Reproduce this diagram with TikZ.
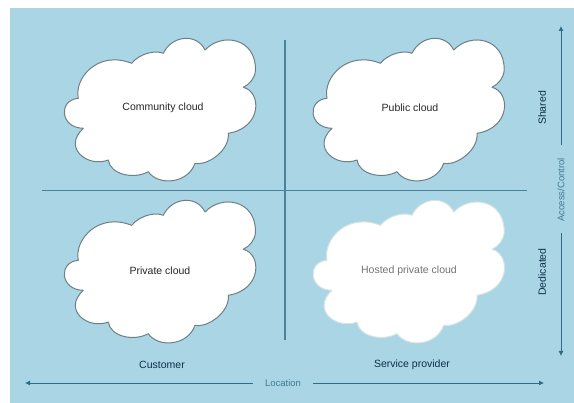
\documentclass[tikz,border=0pt]{standalone}
\usepackage{fontspec}
\setmainfont{Liberation Sans}
\usetikzlibrary{arrows.meta}
\definecolor{panel}{HTML}{A9D5E5}
\definecolor{axisc}{HTML}{4A8299}
\definecolor{arrowc}{HTML}{2F6C85}
\definecolor{cloudedge}{HTML}{6F7F86}
\definecolor{softedge}{HTML}{D5E3E3}
\definecolor{navytext}{HTML}{0F3048}
\tikzset{
  x=1pt,y=-1pt,
  divider/.style={draw=axisc,line width=1.4pt},
  axisarrow/.style={draw=arrowc,line width=0.8pt,-{Latex[length=5pt,width=5pt]}},
  cloudlabel/.style={font=\fontsize{10.5}{12}\selectfont,text=black!85,inner sep=0pt},
  sidelabel/.style={font=\fontsize{10.5}{12}\selectfont,text=navytext,inner sep=0pt},
  faintlabel/.style={font=\fontsize{9.5}{11}\selectfont,text=arrowc!85!panel,inner sep=0pt},
  cloudshape/.style={fill=white,draw=cloudedge,line width=1pt,line join=round},
  softcloud/.style={fill=white,draw=softedge,line width=1pt,line join=round},
}
\newcommand{\cloudpath}[3]{%
  \path[#1,shift={(#2,#3)}]
  (131.7,63.3)
  .. controls (140,53) and (156,50) .. (163.3,53.3)
  .. controls (172,35) and (197,33) .. (205,50)
  .. controls (222,32) and (256,38) .. (255.5,70)
  .. controls (255,78) and (250,84) .. (243.3,87.3)
  .. controls (262,92) and (262,128) .. (228.3,133.3)
  .. controls (230,150) and (208,166) .. (195,163.3)
  .. controls (188,184) and (158,186) .. (148.3,171.7)
  .. controls (133,180) and (110,174) .. (108.3,160)
  .. controls (88,168) and (62,148) .. (83.3,128.3)
  .. controls (60,128) and (58,100) .. (78.3,98.3)
  .. controls (74,78) and (98,50) .. (131.7,63.3)
  -- cycle;}
\begin{document}
\begin{tikzpicture}
\useasboundingbox (0,0) rectangle (574,403);
\fill[white] (0,0) rectangle (574,403);
\fill[panel] (10,8) rectangle (574,403);

\cloudpath{cloudshape}{0}{0}
\cloudpath{cloudshape}{248.7}{0}
\cloudpath{cloudshape}{0}{162}
\cloudpath{softcloud}{248.7}{162}

\node[cloudlabel] (community) at (163,108) {Community cloud};
\node[cloudlabel] (public) at (410,108) {Public cloud};
\node[cloudlabel] (private) at (160,271) {Private cloud};
\node[cloudlabel,text=black!55] (hosted) at (409,271) {Hosted private cloud};

\coordinate (vtop) at (285,40);
\coordinate (vbot) at (285,340);
\coordinate (hleft) at (42,190.7);
\coordinate (hright) at (527,190.7);
\draw[divider] (vtop) -- (vbot);
\draw[divider] (hleft) -- (hright);

\node[sidelabel] (customer) at (162,365) {Customer};
\node[sidelabel] (provider) at (412,365) {Service provider};
\node[sidelabel,rotate=90] (shared) at (542,108) {Shared};
\node[sidelabel,rotate=90] (dedicated) at (542,272) {Dedicated};

\node[faintlabel] (location) at (283,383) {Location};
\node[faintlabel,rotate=90] (access) at (561,190) {Access/Control};

\coordinate (lefttip) at (25,383);
\coordinate (righttip) at (544,383);
\coordinate (toptip) at (561,26);
\coordinate (bottomtip) at (561,356);
\draw[axisarrow] (location.west) ++(-12,0) -- (lefttip);
\draw[axisarrow] (location.east) ++(12,0) -- (righttip);
\draw[axisarrow] (access.east) ++(0,-13) -- (toptip);
\draw[axisarrow] (access.west) ++(0,11) -- (bottomtip);
\end{tikzpicture}
\end{document}
